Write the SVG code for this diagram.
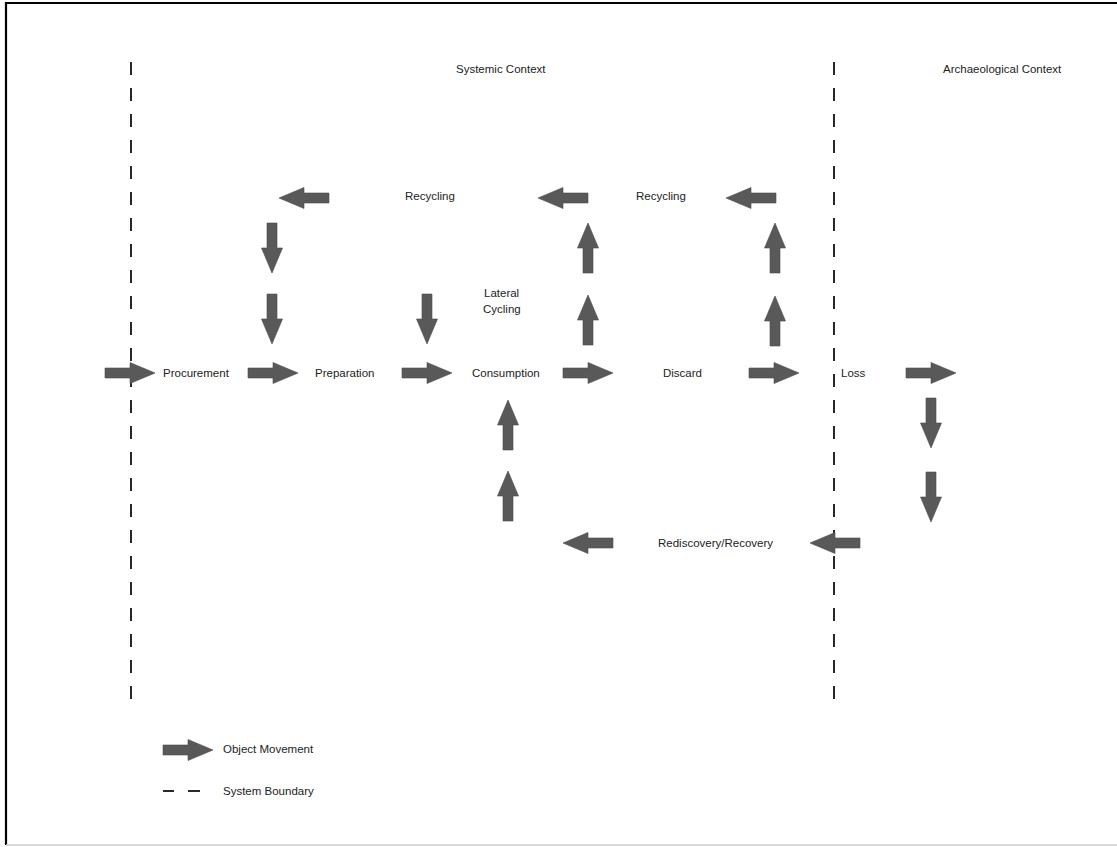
<svg xmlns="http://www.w3.org/2000/svg" xmlns:xlink="http://www.w3.org/1999/xlink" width="1117" height="847" viewBox="0 0 1117 847">
<style>
text{font-family:"Liberation Sans","Open Sans",Arial,sans-serif;font-size:11.5px;fill:#222}
.arrow{fill:#595959;stroke:#4a4a4a;stroke-width:0.6}
.boundary{stroke:#111;stroke-width:1.8;stroke-dasharray:13 13;fill:none}
</style>
<defs>
<path id="arr" d="M-25,-5 H0 V-10.5 L25,0 L0,10.5 V5 H-25 Z"/>
</defs>
<rect x="0" y="0" width="1117" height="847" fill="#fff"/>
<g id="frame">
<line x1="6" y1="3" x2="1117" y2="3" stroke="#000" stroke-width="2.2"/>
<line x1="6" y1="2" x2="6" y2="845" stroke="#000" stroke-width="2.2"/>
<line x1="6" y1="845" x2="1117" y2="845" stroke="#ccc" stroke-width="1.5"/>
</g>
<g id="boundaries">
<line class="boundary" x1="131" y1="62" x2="131" y2="710"/>
<line class="boundary" x1="834" y1="62" x2="834" y2="710"/>
</g>
<g id="connectors" class="arrow">
<use xlink:href="#arr" transform="translate(130,373)"/>
<use xlink:href="#arr" transform="translate(273,373)"/>
<use xlink:href="#arr" transform="translate(427,373)"/>
<use xlink:href="#arr" transform="translate(588,373)"/>
<use xlink:href="#arr" transform="translate(774,373)"/>
<use xlink:href="#arr" transform="translate(931,373)"/>
<use xlink:href="#arr" transform="translate(304,198) rotate(180)"/>
<use xlink:href="#arr" transform="translate(563,198) rotate(180)"/>
<use xlink:href="#arr" transform="translate(751,198) rotate(180)"/>
<use xlink:href="#arr" transform="translate(272,248) rotate(90)"/>
<use xlink:href="#arr" transform="translate(272,319) rotate(90)"/>
<use xlink:href="#arr" transform="translate(427,319) rotate(90)"/>
<use xlink:href="#arr" transform="translate(588,248) rotate(-90)"/>
<use xlink:href="#arr" transform="translate(588,320) rotate(-90)"/>
<use xlink:href="#arr" transform="translate(775,248) rotate(-90)"/>
<use xlink:href="#arr" transform="translate(775,321) rotate(-90)"/>
<use xlink:href="#arr" transform="translate(508,425) rotate(-90)"/>
<use xlink:href="#arr" transform="translate(508,496) rotate(-90)"/>
<use xlink:href="#arr" transform="translate(931,423) rotate(90)"/>
<use xlink:href="#arr" transform="translate(931,497) rotate(90)"/>
<use xlink:href="#arr" transform="translate(588,543) rotate(180)"/>
<use xlink:href="#arr" transform="translate(835,543) rotate(180)"/>
</g>
<g id="systemic-context"><text x="456" y="73">Systemic Context</text></g>
<g id="archaeological-context"><text x="943" y="73">Archaeological Context</text></g>
<g id="procurement"><text x="163" y="377">Procurement</text></g>
<g id="preparation"><text x="315" y="377">Preparation</text></g>
<g id="consumption"><text x="472" y="377">Consumption</text></g>
<g id="discard"><text x="663" y="377">Discard</text></g>
<g id="loss"><text x="841" y="377">Loss</text></g>
<g id="recycling-1"><text x="405" y="200">Recycling</text></g>
<g id="recycling-2"><text x="636" y="200">Recycling</text></g>
<g id="lateral-cycling"><text x="484" y="297">Lateral</text><text x="483" y="313">Cycling</text></g>
<g id="rediscovery"><text x="658" y="547">Rediscovery/Recovery</text></g>
<g id="legend">
<use xlink:href="#arr" class="arrow" transform="translate(188,750)"/>
<text x="223" y="753">Object Movement</text>
<line x1="163" y1="791" x2="174" y2="791" stroke="#111" stroke-width="1.8"/>
<line x1="188" y1="791" x2="200" y2="791" stroke="#111" stroke-width="1.8"/>
<text x="223" y="795">System Boundary</text>
</g>
</svg>
